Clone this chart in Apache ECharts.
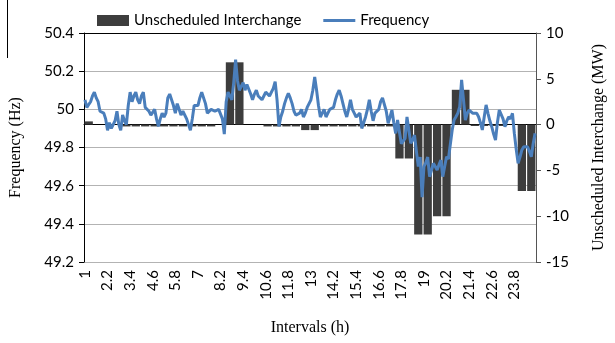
<!DOCTYPE html>
<html><head><meta charset="utf-8">
<script src="https://cdn.jsdelivr.net/npm/echarts@6/dist/echarts.min.js"></script>
<style>html,body{margin:0;padding:0;background:#fff}#c{width:615px;height:343px}</style>
</head><body><div id="c"></div><script>
// 0.1 h intervals from 1 to 24.9
const intervals = Array.from({length: 240}, (_, i) => String((10 + i) / 10));
// half-hour blocks for unscheduled interchange
const halfHours = Array.from({length: 48}, (_, k) => String(1 + k / 2));

const frequency = [
50.05,50.01,50.02,50.04,50.07,50.09,50.06,50.04,49.99,50.0,
49.98,49.95,49.89,49.93,49.9,49.89,49.94,49.99,49.92,49.89,
49.97,49.94,49.92,50.02,50.09,50.04,50.07,50.09,50.05,50.03,
50.07,50.09,50.01,50.0,49.99,49.97,49.96,50.0,49.95,49.91,
49.95,49.98,49.96,49.98,50.06,50.08,50.08,50.02,49.98,50.03,
50.0,49.97,49.99,50.0,49.95,49.92,49.89,49.95,50.02,50.01,
50.02,50.06,50.09,50.09,50.03,49.98,49.99,50.0,50.0,49.99,
49.99,50.0,50.0,49.95,49.87,50.04,50.09,50.1,50.05,50.14,
50.26,50.15,50.1,50.12,50.14,50.1,50.13,50.12,50.08,50.05,
50.08,50.10,50.07,50.06,50.05,50.07,50.09,50.08,50.07,50.08,
50.11,50.145,50.05,49.91,49.96,49.99,50.03,50.06,50.084,50.06,
50.03,49.99,49.97,49.96,49.98,50.0,49.96,49.98,50.01,50.03,
50.05,50.1,50.17,50.10,50.02,49.96,49.98,50.0,49.96,49.98,
50.0,50.0,50.01,50.05,50.08,50.10,50.07,50.03,49.99,49.96,
50.0,50.05,50.0,49.98,49.96,49.97,49.98,49.90,49.93,49.96,
50.0,50.05,49.99,49.94,49.98,49.99,50.0,50.04,50.06,50.066,
49.99,49.927,49.96,49.996,49.93,49.874,49.944,49.88,49.82,49.83,
49.848,49.96,49.89,49.822,49.84,49.865,49.78,49.70,49.75,49.54,
49.70,49.72,49.75,49.647,49.68,49.717,49.70,49.682,49.71,49.734,
49.647,49.70,49.752,49.74,49.734,49.892,49.944,49.961,49.98,50.014,
50.154,50.05,49.944,49.98,49.996,49.99,49.979,49.988,49.98,49.961,
49.93,49.892,49.96,50.023,49.979,49.94,49.909,49.87,49.839,49.93,
49.996,49.996,49.95,49.909,49.94,49.961,49.95,49.979,49.874,49.79,
49.717,49.75,49.787,49.804,49.80,49.804,49.78,49.752,49.82,49.874
];

const unscheduled = [
0.35,0,0,0,-0.2,-0.2,-0.2,-0.2,-0.2,-0.2,
-0.2,-0.2,-0.2,-0.2,0,6.8,6.8,0,0,-0.2,
-0.2,-0.2,-0.2,-0.6,-0.6,-0.2,-0.2,-0.2,-0.2,-0.2,
-0.2,-0.2,-0.2,-3.7,-3.7,-12,-12,-10,-10,3.8,
3.8,-0.15,-0.15,-0.15,-0.15,0,-7.25,-7.25
];

const freqTicks = {min: 49.2, max: 50.4, interval: 0.2};
const uiTicks = {min: -15, max: 10, interval: 5};

const chart = echarts.init(document.getElementById('c'), null, {renderer: 'canvas'});
const labelFont = {fontFamily: 'Lato', fontSize: 15, color: '#000'};
const nameFont = {fontFamily: 'Liberation Serif', fontSize: 16, color: '#000'};

chart.setOption({
  animation: false,
  backgroundColor: '#fff',
  legend: {
    left: 92, top: 8,
    itemWidth: 32, itemHeight: 11, itemGap: 22,
    textStyle: {fontFamily: 'Lato', fontSize: 15, color: '#000'},
    data: [
      {name: 'Unscheduled Interchange', icon: 'rect'},
      {name: 'Frequency', icon: 'path://M0,0L32,0L32,3L0,3Z'}
    ]
  },
  grid: {left: 83, right: 66, top: 33, bottom: 81},
  xAxis: [{
    type: 'category', data: intervals, boundaryGap: true, position: 'bottom',
    name: 'Intervals (h)', nameLocation: 'middle', nameGap: 58, nameTextStyle: nameFont,
    axisLine: {lineStyle: {color: '#000', width: 1}},
    axisTick: {interval: 0, length: 5, lineStyle: {color: '#000'}},
    axisLabel: Object.assign({interval: 11, rotate: 90, margin: 8}, labelFont),
    splitLine: {show: false}
  }, {
    type: 'category', data: halfHours, position: 'top',
    axisLine: {show: true, lineStyle: {color: '#000', width: 1}},
    axisTick: {show: false}, axisLabel: {show: false}, splitLine: {show: false}
  }],
  yAxis: [{
    type: 'value', min: freqTicks.min, max: freqTicks.max, interval: freqTicks.interval,
    name: 'Frequency (Hz)', nameLocation: 'middle', nameGap: 60, nameRotate: 90, nameTextStyle: nameFont,
    axisLine: {show: true, lineStyle: {color: '#000'}},
    axisTick: {show: true, length: 5, lineStyle: {color: '#000'}},
    axisLabel: Object.assign({margin: 10, formatter: v => String(+v.toFixed(1))}, labelFont),
    splitLine: {show: true, lineStyle: {color: '#b3b3b3', width: 1}}
  }, {
    type: 'value', min: uiTicks.min, max: uiTicks.max, interval: uiTicks.interval, position: 'right',
    name: 'Unscheduled Interchange (MW)', nameLocation: 'middle', nameGap: 55, nameRotate: 90, nameTextStyle: nameFont,
    axisLine: {show: true, lineStyle: {color: '#555'}},
    axisTick: {show: true, length: 5, lineStyle: {color: '#555'}},
    axisLabel: Object.assign({margin: 10}, labelFont),
    splitLine: {show: false}
  }],
  series: [{
    name: 'Unscheduled Interchange', type: 'bar', xAxisIndex: 1, yAxisIndex: 1,
    data: unscheduled, barCategoryGap: '12%',
    itemStyle: {color: '#3d3d3d'}, z: 2
  }, {
    name: 'Frequency', type: 'line', xAxisIndex: 0, yAxisIndex: 0,
    data: frequency, symbol: 'none', smooth: false,
    lineStyle: {color: '#4a7ebb', width: 3}, itemStyle: {color: '#4a7ebb'}, z: 3
  }],
  graphic: [{type: 'line', shape: {x1: 7.5, y1: 0, x2: 7.5, y2: 58}, style: {stroke: '#000', lineWidth: 1}}]
});
</script></body></html>
